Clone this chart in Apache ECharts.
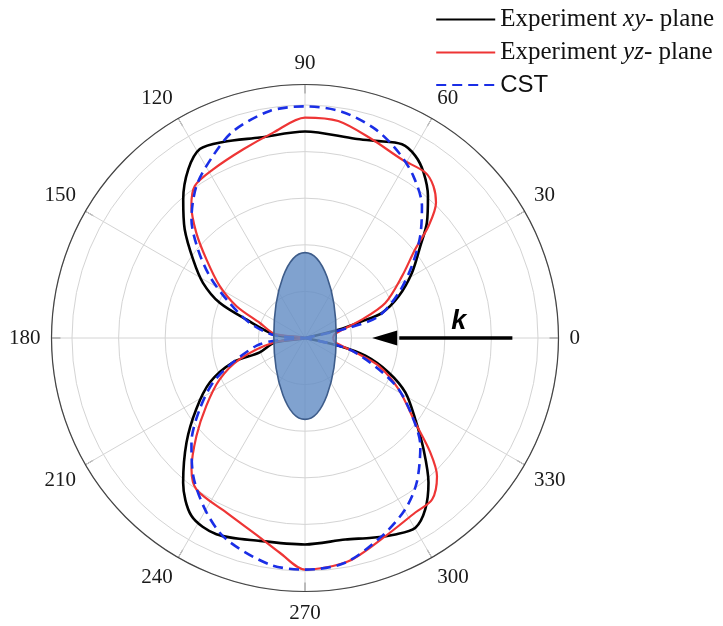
<!DOCTYPE html>
<html>
<head>
<meta charset="utf-8">
<script src="https://cdn.jsdelivr.net/npm/echarts@6/dist/echarts.min.js"></script>
<style>
  html, body { margin: 0; padding: 0; background: #ffffff; }
  #main { width: 723px; height: 626px; }
</style>
</head>
<body>
<div id="main"></div>
<script>
// Radiation patterns, radius in grid-ring units (one ring = one unit)
const seriesNames = ['Experiment xy- plane', 'Experiment yz- plane', 'CST'];

const xyAngle = [0, 14, 16.3, 18, 24, 31.4, 38.5, 43.4, 49.1, 54.4, 58.8, 63.4, 70.4, 75.9, 90,
  102.7, 112.7, 119.1, 124.7, 131.3, 137.9, 145, 151.6, 157.6, 162.6, 173.7, 180,
  188.2, 197.6, 198.7, 205, 213.2, 221.4, 229.9, 237.5, 245.7, 257.5, 270,
  281.3, 288.5, 294.7, 300.2, 305.1, 310.5, 316.8, 323.6, 331.5, 337.6, 343.6, 347, 360];
const xyGain = [0, 0.74, 1.27, 1.73, 2.20, 2.69, 3.16, 3.60, 4.03, 4.37, 4.57, 4.65, 4.49, 4.41, 4.43,
  4.41, 4.56, 4.64, 4.40, 3.96, 3.48, 2.93, 2.49, 1.98, 1.31, 0.65, 0,
  0.65, 1.02, 1.63, 2.25, 2.79, 3.39, 4.06, 4.53, 4.62, 4.46, 4.43,
  4.41, 4.52, 4.64, 4.71, 4.49, 4.08, 3.49, 2.94, 2.45, 1.94, 1.35, 0.74, 0];

const yzAngle = [0, 8, 17.9, 23.6, 32.5, 38.8, 42.2, 45.9, 49.8, 54, 61.5, 71.4, 81.3, 90,
  98.8, 108.1, 118.6, 125.9, 130.7, 135.9, 141.5, 148.7, 155.1, 161.6, 172, 180,
  188, 197.9, 205.8, 214.5, 222.1, 229.1, 234.4, 245.8, 257.3, 263.3, 270,
  281, 292, 302.3, 308.2, 313.7, 317.6, 322.5, 331.3, 339.3, 344, 352, 360];
const yzGain = [0.6, 0.65, 1.28, 1.88, 2.47, 3.03, 3.58, 4.04, 4.27, 4.39, 4.36, 4.50, 4.71, 4.73,
  4.46, 4.26, 4.12, 4.03, 3.74, 3.25, 2.70, 2.14, 1.62, 1.02, 0.66, 0,
  0.66, 1.47, 2.03, 2.57, 3.14, 3.72, 4.00, 4.11, 4.39, 4.64, 4.97,
  4.88, 4.59, 4.43, 4.41, 4.10, 3.64, 2.98, 2.29, 1.69, 1.12, 0.65, 0.6];

const cstAngle = [0, 13, 16.4, 25.7, 33.9, 41.5, 48.4, 56.2, 63.2, 71.4, 80.8, 90,
  98.8, 109.1, 116.8, 125.5, 133.8, 140.4, 147, 153.9, 164.7, 175, 180,
  185, 189, 198.7, 205.8, 214.1, 222.6, 231, 240.6, 248.7, 261.2, 270,
  280.1, 291.2, 300.3, 307.7, 316.9, 324, 331.3, 337.1, 345.7, 360];
const cstGain = [0, 0.95, 1.64, 2.23, 2.76, 3.30, 3.78, 4.18, 4.46, 4.73, 4.92, 4.97,
  4.93, 4.70, 4.38, 4.01, 3.52, 2.98, 2.44, 1.87, 1.23, 0.66, 0,
  0.66, 1.05, 1.63, 2.19, 2.73, 3.31, 3.81, 4.30, 4.64, 4.92, 4.97,
  4.90, 4.56, 4.26, 3.92, 3.39, 2.84, 2.29, 1.71, 0.96, 0];

// Angle axis ticks (degrees)
const angleTicks = [0, 30, 60, 90, 120, 150, 180, 210, 240, 270, 300, 330];

// Scatterer outline and incidence arrow, in ring units
const scatterer = { rx: 0.67, ry: 1.79 };
const incidence = { tail: 4.45, headBase: 1.98, tip: 1.44, labelAt: 3.3 };

const toPolar = (angles, gains) => angles.map((a, i) => [gains[i], a]);

const serif = '"Liberation Serif", "Times New Roman", serif';
const sans = '"Liberation Sans", Arial, sans-serif';

const chart = echarts.init(document.getElementById('main'), null, { renderer: 'canvas' });

const option = {
  animation: false,
  backgroundColor: '#ffffff',
  legend: {
    orient: 'vertical',
    right: 4,
    top: 2,
    itemWidth: 59,
    itemHeight: 24,
    itemGap: 8,
    data: seriesNames,
    itemStyle: { opacity: 0 },
    formatter: function (name) {
      if (name === 'CST') return '{s|CST}';
      const parts = name.split(' ');
      return '{n|' + parts[0] + ' }{i|' + parts[1].replace('-', '') + '}{n|- ' + parts[2] + '}';
    },
    textStyle: {
      color: '#111',
      rich: {
        n: { fontFamily: serif, fontSize: 25, color: '#111' },
        i: { fontFamily: serif, fontSize: 25, fontStyle: 'italic', color: '#111' },
        s: { fontFamily: sans, fontSize: 24, color: '#111' }
      }
    }
  },
  polar: {
    center: [305, 338],
    radius: 253.5
  },
  angleAxis: {
    type: 'value',
    min: 0,
    max: 360,
    interval: 30,
    startAngle: 0,
    clockwise: false,
    axisLine: { show: true, lineStyle: { color: '#444', width: 1.2 } },
    axisTick: { show: true, inside: true, length: 9, lineStyle: { color: '#444', width: 1 } },
    axisLabel: {
      show: true,
      margin: 11,
      fontFamily: serif,
      fontSize: 21,
      color: '#1a1a1a',
      formatter: function (v) { return angleTicks.indexOf(v) >= 0 ? String(v) : ''; }
    },
    splitLine: { show: true, lineStyle: { color: '#d4d4d4', width: 1 } }
  },
  radiusAxis: {
    type: 'value',
    min: 0,
    max: 5.44,
    interval: 1,
    axisLine: { show: false },
    axisTick: { show: false },
    axisLabel: { show: false },
    splitLine: { show: true, lineStyle: { color: '#d4d4d4', width: 1 } }
  },
  series: [
    {
      name: seriesNames[0],
      type: 'line',
      coordinateSystem: 'polar',
      data: toPolar(xyAngle, xyGain),
      symbol: 'none',
      smooth: 0.3,
      lineStyle: { color: '#000000', width: 2.6 },
      itemStyle: { color: '#000000' },
      z: 3
    },
    {
      name: seriesNames[1],
      type: 'line',
      coordinateSystem: 'polar',
      data: toPolar(yzAngle, yzGain),
      symbol: 'none',
      smooth: 0.3,
      lineStyle: { color: '#ee3535', width: 2.2 },
      itemStyle: { color: '#ee3535' },
      z: 4
    },
    {
      name: seriesNames[2],
      type: 'line',
      coordinateSystem: 'polar',
      data: toPolar(cstAngle, cstGain),
      symbol: 'none',
      smooth: 0.3,
      lineStyle: { color: '#1a2ee6', width: 2.6, type: [10, 6] },
      itemStyle: { color: '#1a2ee6' },
      z: 5
    }
  ]
};

chart.setOption(option);

// Overlay: scatterer ellipse, incidence arrow and wave-vector label, placed via the polar axes
const toPx = (r, a) => chart.convertToPixel({ polarIndex: 0 }, [r, a]);
const origin = toPx(0, 0);
const unit = toPx(1, 0)[0] - origin[0];
const tail = toPx(incidence.tail, 0);
const headBase = toPx(incidence.headBase, 0);
const tip = toPx(incidence.tip, 0);
const labelPt = toPx(incidence.labelAt, 0);

chart.setOption({
  graphic: [
    {
      type: 'ellipse',
      z: 50,
      shape: { cx: origin[0], cy: origin[1] - 2, rx: scatterer.rx * unit, ry: scatterer.ry * unit },
      style: { fill: 'rgba(100,142,196,0.82)', stroke: '#3d5c8a', lineWidth: 1.6 }
    },
    {
      type: 'line',
      z: 50,
      shape: { x1: tail[0], y1: tail[1], x2: headBase[0] + 2, y2: headBase[1] },
      style: { stroke: '#000', lineWidth: 3.6 }
    },
    {
      type: 'polygon',
      z: 50,
      shape: { points: [[tip[0], tip[1]], [headBase[0], headBase[1] - 7.5], [headBase[0], headBase[1] + 7.5]] },
      style: { fill: '#000' }
    },
    {
      type: 'text',
      z: 50,
      x: labelPt[0],
      y: labelPt[1] - 16,
      style: {
        text: 'k',
        fontFamily: sans,
        fontSize: 27,
        fontWeight: 'bold',
        fontStyle: 'italic',
        fill: '#000',
        align: 'center',
        verticalAlign: 'middle'
      }
    }
  ]
});
</script>
</body>
</html>
